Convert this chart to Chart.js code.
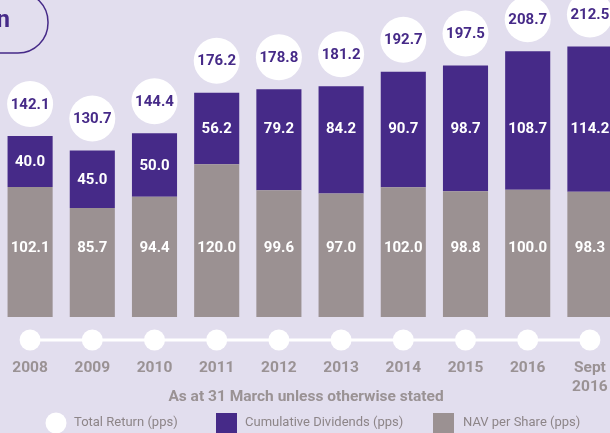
<!DOCTYPE html>
<html>
<head>
<meta charset="utf-8">
<script src="https://cdn.jsdelivr.net/npm/chart.js@4/dist/chart.umd.min.js"></script>
<style>
  html, body { margin:0; padding:0; width:610px; height:433px; overflow:hidden; background:#e2deee; }
  #wrap { position:absolute; left:-1px; top:0; width:622px; height:433px; }
</style>
</head>
<body>
<div id="wrap"><canvas id="chart" width="622" height="433"></canvas></div>
<script>
// values
const YEARS = ['2008','2009','2010','2011','2012','2013','2014','2015','2016',['Sept','2016']];
const NAV = [102.1, 85.7, 94.4, 120.0, 99.6, 97.0, 102.0, 98.8, 100.0, 98.3];
const DIVIDENDS = [40.0, 45.0, 50.0, 56.2, 79.2, 84.2, 90.7, 98.7, 108.7, 114.2];
const TOTAL_RETURN = [142.1, 130.7, 144.4, 176.2, 178.8, 181.2, 192.7, 197.5, 208.7, 212.5];
const LEGEND = ['Total Return (pps)', 'Cumulative Dividends (pps)', 'NAV per Share (pps)'];
const SUBTITLE = 'As at 31 March unless otherwise stated';
const TITLE = 'Total Return';

const PURPLE = '#462a88', GREY = '#9b9192', TEXT_GREY = '#9a9294';
const FONT = "Roboto, 'Open Sans', sans-serif";

const decorations = {
  id:'decorations',
  afterDatasetsDraw(chart){
    const { ctx, scales:{ x, y } } = chart;
    ctx.save();

    // partial title box, top left
    ctx.strokeStyle = PURPLE; ctx.lineWidth = 1.5;
    ctx.beginPath(); ctx.roundRect(-200, -8, 249, 61, 30); ctx.stroke();
    ctx.fillStyle = PURPLE; ctx.font = `bold 24px ${FONT}`;
    ctx.textAlign = 'right'; ctx.textBaseline = 'alphabetic';
    ctx.fillText(TITLE, 11, 27);

    ctx.textAlign = 'center'; ctx.textBaseline = 'middle';
    YEARS.forEach((yr, i) => {
      const cx = x.getPixelForValue(i);
      const top = y.getPixelForValue(TOTAL_RETURN[i]);
      const mid = y.getPixelForValue(NAV[i]);

      // total return bubble
      ctx.fillStyle = '#ffffff';
      ctx.beginPath(); ctx.arc(cx, top - 32, 23, 0, Math.PI*2); ctx.fill();
      ctx.fillStyle = PURPLE; ctx.font = `bold 15px ${FONT}`;
      ctx.fillText(TOTAL_RETURN[i].toFixed(1), cx, top - 31);

      // segment labels
      ctx.fillStyle = '#ffffff';
      const dy = top <= 100 ? 128 : (top + mid) / 2;
      ctx.fillText(DIVIDENDS[i].toFixed(1), cx, dy + 1);
      ctx.fillText(NAV[i].toFixed(1), cx, 248);
    });

    // timeline
    const x0 = x.getPixelForValue(0), x1 = x.getPixelForValue(YEARS.length - 1);
    ctx.strokeStyle = '#ffffff'; ctx.lineWidth = 3;
    ctx.beginPath(); ctx.moveTo(x0, 340); ctx.lineTo(x1, 340); ctx.stroke();
    ctx.fillStyle = '#ffffff';
    YEARS.forEach((yr, i) => {
      ctx.beginPath(); ctx.arc(x.getPixelForValue(i), 340, 10.5, 0, Math.PI*2); ctx.fill();
    });

    // year labels
    ctx.fillStyle = TEXT_GREY; ctx.font = `bold 15.5px ${FONT}`;
    YEARS.forEach((yr, i) => {
      const lines = Array.isArray(yr) ? yr : [yr];
      lines.forEach((l, j) => ctx.fillText(l, x.getPixelForValue(i), 368 + j*19));
    });

    // subtitle
    ctx.fillText(SUBTITLE, 307, 397);

    // legend
    ctx.fillStyle = '#ffffff';
    ctx.beginPath(); ctx.arc(57, 423, 10.5, 0, Math.PI*2); ctx.fill();
    ctx.fillStyle = PURPLE; ctx.fillRect(217, 413, 21, 21);
    ctx.fillStyle = GREY; ctx.fillRect(434, 413, 21, 21);
    ctx.fillStyle = '#8d8588'; ctx.font = `13px ${FONT}`; ctx.textAlign = 'left';
    ctx.fillText(LEGEND[0], 75, 423);
    ctx.fillText(LEGEND[1], 246, 423);
    ctx.fillText(LEGEND[2], 464, 423);

    ctx.restore();
  }
};

new Chart(document.getElementById('chart'), {
  type:'bar',
  data:{
    labels: YEARS,
    datasets:[
      { label: LEGEND[2], data: NAV, backgroundColor: GREY, barPercentage:0.725, categoryPercentage:1 },
      { label: LEGEND[1], data: DIVIDENDS, backgroundColor: PURPLE, barPercentage:0.725, categoryPercentage:1 },
    ]
  },
  options:{
    responsive:false, animation:false,
    layout:{ padding:{ top:0, bottom:116, left:0, right:0 } },
    plugins:{ legend:{ display:false }, tooltip:{ enabled:false } },
    scales:{
      x:{ stacked:true, display:false },
      y:{ stacked:true, display:false, min:0, max:249 },
    }
  },
  plugins:[decorations]
});
</script>
</body>
</html>
